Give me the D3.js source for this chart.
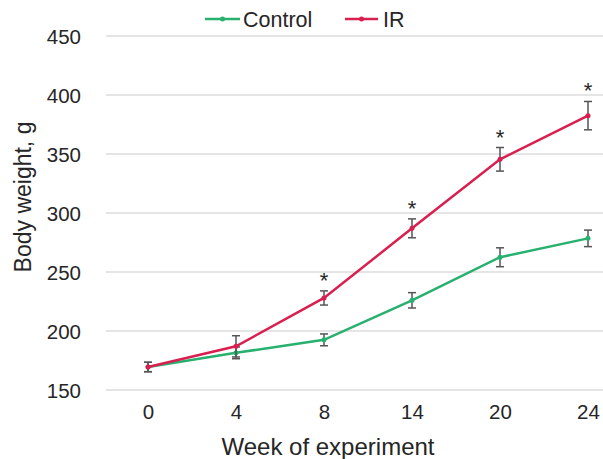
<!DOCTYPE html>
<html>
<head>
<meta charset="utf-8">
<script src="https://cdn.jsdelivr.net/npm/d3@7"></script>
<style>
  body { margin: 0; background: #fff; }
  text { font-family: "Liberation Sans", Arial, sans-serif; fill: #262626; }
</style>
</head>
<body>
<svg width="603" height="459"></svg>
<script>
// data
const weeks = ["0", "4", "8", "14", "20", "24"]
const control = [169.5, 181.5, 192.5, 226, 262.5, 278.5]
const controlErr = [4, 5, 5, 6.5, 8, 7]
const ir = [169.5, 187, 228, 287, 345.5, 382.5]
const irErr = [4, 9, 6, 8, 10, 12]
const stars = [false, false, true, true, true, true]
const yTicks = [150, 200, 250, 300, 350, 400, 450]

const svg = d3.select("svg")
const GREEN = "#28b06f"
const RED = "#d91f4f"

const x = d3.scalePoint().domain(weeks).range([104, 632]).padding(0.5)
const y = d3.scaleLinear().domain([150, 450]).range([390, 36])

// gridlines
svg.append("g")
    .selectAll("line")
    .data(yTicks)
    .enter().append("line")
    .attr("x1", 106)
    .attr("x2", 603)
    .attr("y1", d => y(d))
    .attr("y2", d => y(d))
    .attr("stroke", "#dcdcdc")
    .attr("stroke-width", 1.5)

// y axis labels
const yAxis = svg.append("g")
    .attr("transform", "translate(81,0)")
    .call(d3.axisLeft(y).tickValues(yTicks).tickSize(0).tickPadding(0))
yAxis.select(".domain").remove()
yAxis.selectAll("text")
    .style("font-size", "20.5px")
    .attr("dy", "0.35em")

// x axis labels
const xAxis = svg.append("g")
    .attr("transform", "translate(0,405)")
    .call(d3.axisBottom(x).tickSize(0).tickPadding(0))
xAxis.select(".domain").remove()
xAxis.selectAll("text")
    .style("font-size", "20.5px")
    .attr("dy", "0.7em")

// axis titles
svg.append("text")
    .attr("x", 328)
    .attr("y", 455)
    .attr("text-anchor", "middle")
    .style("font-size", "24px")
    .text("Week of experiment")

svg.append("text")
    .attr("transform", "translate(31,197) rotate(-90)")
    .attr("text-anchor", "middle")
    .style("font-size", "23px")
    .text("Body weight, g")

const line = d3.line().x((d, i) => x(weeks[i])).y(d => y(d))

function drawSeries(vals, errs, color) {
    svg.append("path")
        .datum(vals)
        .attr("d", line)
        .attr("fill", "none")
        .attr("stroke", color)
        .attr("stroke-width", 2.5)

    const eb = svg.append("g")
        .selectAll("g")
        .data(vals)
        .enter().append("g")
        .attr("stroke", "#555")
        .attr("stroke-width", 1.5)
    eb.append("line")
        .attr("x1", (d, i) => x(weeks[i]))
        .attr("x2", (d, i) => x(weeks[i]))
        .attr("y1", (d, i) => y(d + errs[i]))
        .attr("y2", (d, i) => y(d - errs[i]))
    eb.append("line")
        .attr("x1", (d, i) => x(weeks[i]) - 4)
        .attr("x2", (d, i) => x(weeks[i]) + 4)
        .attr("y1", (d, i) => y(d + errs[i]))
        .attr("y2", (d, i) => y(d + errs[i]))
    eb.append("line")
        .attr("x1", (d, i) => x(weeks[i]) - 4)
        .attr("x2", (d, i) => x(weeks[i]) + 4)
        .attr("y1", (d, i) => y(d - errs[i]))
        .attr("y2", (d, i) => y(d - errs[i]))

    svg.append("g")
        .selectAll("circle")
        .data(vals)
        .enter().append("circle")
        .attr("cx", (d, i) => x(weeks[i]))
        .attr("cy", d => y(d))
        .attr("r", 2.5)
        .attr("fill", color)
}

drawSeries(control, controlErr, GREEN)
drawSeries(ir, irErr, RED)

// significance stars
svg.append("g")
    .selectAll("text")
    .data(ir.map((v, i) => ({v: v, i: i})).filter(d => stars[d.i]))
    .enter().append("text")
    .attr("x", d => x(weeks[d.i]))
    .attr("y", d => y(d.v + irErr[d.i]) - 3)
    .attr("text-anchor", "middle")
    .style("font-size", "22px")
    .text("*")

// legend
const legend = [["Control", GREEN, 205], ["IR", RED, 345]]
const lg = svg.append("g")
    .selectAll("g")
    .data(legend)
    .enter().append("g")
    .attr("transform", d => `translate(${d[2]},19)`)
lg.append("line")
    .attr("x1", 0).attr("x2", d => d[0] === "IR" ? 33 : 35)
    .attr("stroke", d => d[1])
    .attr("stroke-width", 2.5)
lg.append("circle")
    .attr("cx", d => d[0] === "IR" ? 16.5 : 17.5)
    .attr("r", 2.5)
    .attr("fill", d => d[1])
lg.append("text")
    .attr("x", 38)
    .attr("dy", "0.35em")
    .style("font-size", "21.5px")
    .text(d => d[0])
</script>
</body>
</html>
